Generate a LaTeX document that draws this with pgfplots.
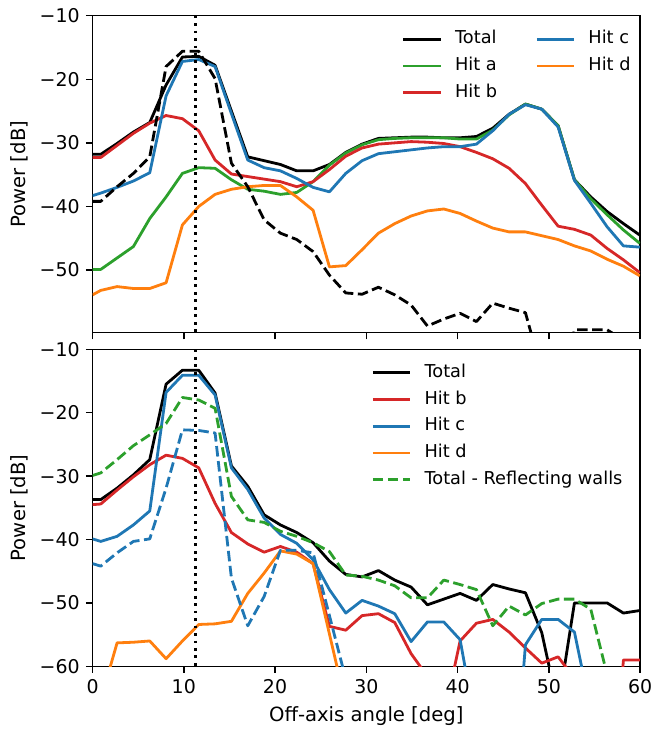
\documentclass[border=0pt]{standalone}
\usepackage{fontspec}
\setmainfont{DejaVu Sans}
\usepackage{pgfplots}
\usepackage{pgfplotstable}
\pgfplotsset{compat=1.18}

\definecolor{tblue}{HTML}{1F77B4}
\definecolor{torange}{HTML}{FF7F0E}
\definecolor{tgreen}{HTML}{2CA02C}
\definecolor{tred}{HTML}{D62728}

% upper panel: direct field
\pgfplotstableread{
x      tot    a      b      c      d      dash
0.00  -31.8  -49.9  -32.3  -38.3  -53.9  -39.2
0.90  -31.8  -49.9  -32.3  -37.9  -53.2  -39.2
2.69  -30.1  -48.1  -30.4  -37.0  -52.6  -36.9
4.48  -28.3  -46.3  -28.5  -36.0  -52.9  -34.8
6.27  -26.8  -41.9  -26.9  -34.7  -52.9  -32.2
8.06  -20.9  -38.5  -25.7  -22.6  -52.0  -18.0
9.85  -16.5  -34.8  -26.2  -17.2  -42.9  -15.6
11.64 -16.4  -33.9  -28.1  -16.9  -40.0  -15.6
13.43 -17.8  -34.0  -32.7  -18.0  -38.1  -19.9
15.22 -25.0  -35.8  -34.9  -25.4  -37.3  -33.2
17.01 -32.2  -37.3  -35.3  -32.7  -36.9  -36.9
18.80 -32.8  -37.6  -35.7  -33.9  -36.7  -42.1
20.59 -33.4  -38.1  -36.1  -34.4  -36.7  -44.2
22.38 -34.4  -37.8  -36.9  -35.6  -38.5  -45.2
24.17 -34.4  -36.1  -36.1  -37.0  -40.6  -47.1
25.96 -33.4  -33.5  -34.2  -37.7  -49.5  -50.8
27.75 -31.5  -31.6  -32.1  -34.8  -49.3  -53.6
29.54 -30.2  -30.3  -30.8  -32.8  -46.8  -53.8
31.33 -29.3  -29.5  -30.2  -31.7  -44.2  -52.7
33.12 -29.2  -29.3  -30.0  -31.4  -42.7  -53.9
34.91 -29.1  -29.2  -29.8  -31.1  -41.5  -55.5
36.70 -29.1  -29.2  -29.9  -30.8  -40.7  -58.8
38.49 -29.2  -29.2  -30.1  -30.6  -40.4  -57.7
40.28 -29.2  -29.4  -30.6  -30.6  -41.1  -56.8
42.07 -29.0  -29.4  -31.5  -30.2  -42.3  -58.1
43.86 -27.7  -28.0  -32.5  -28.1  -43.4  -55.2
45.65 -25.5  -25.6  -34.0  -25.5  -44.0  -56.0
47.44 -23.9  -23.9  -36.4  -24.0  -44.0  -56.7
49.23 -24.7  -24.7  -39.8  -24.7  -44.6  -66.0
51.02 -27.3  -27.3  -43.1  -27.5  -45.2  -70.0
52.81 -35.8  -35.8  -43.6  -35.9  -46.2  -59.4
54.60 -38.5  -38.8  -44.5  -39.5  -47.0  -59.4
56.39 -40.8  -41.3  -46.6  -43.2  -48.3  -59.4
58.18 -42.7  -43.7  -48.4  -46.2  -49.4  -61.0
59.97 -44.5  -45.8  -50.4  -46.4  -50.9  -62.0
}\toppanel

% lower panel
\pgfplotstableread{
x      tot    b      c      cd     d      gd
0.00  -33.7  -34.5  -39.9  -43.8  -70.0  -29.9
0.90  -33.7  -34.4  -40.3  -44.2  -65.3  -29.5
2.69  -31.9  -32.2  -39.5  -42.1  -56.3  -27.4
4.48  -29.8  -30.1  -37.7  -40.3  -56.2  -25.2
6.27  -27.4  -28.2  -35.5  -39.9  -56.0  -23.5
8.06  -15.5  -26.7  -16.8  -31.9  -58.8  -21.7
9.85  -13.3  -27.2  -14.1  -22.7  -56.0  -17.6
11.64 -13.3  -28.7  -14.1  -22.8  -53.4  -18.0
13.43 -16.9  -34.3  -17.2  -23.2  -53.3  -19.3
15.22 -28.4  -38.9  -28.7  -46.1  -52.9  -33.2
17.01 -31.6  -40.7  -32.1  -53.6  -48.5  -36.9
18.80 -36.1  -42.0  -36.6  -49.0  -45.3  -37.3
20.59 -37.7  -41.1  -39.2  -41.7  -41.8  -38.7
22.38 -38.9  -42.0  -40.6  -41.7  -42.3  -39.5
24.17 -40.5  -43.8  -43.2  -42.1  -43.8  -40.5
25.96 -43.4  -53.7  -47.9  -52.0  -54.9  -41.9
27.75 -45.5  -54.3  -51.6  -62.0  -66.0  -45.6
29.54 -45.9  -52.0  -49.6  -70.0  -70.0  -45.8
31.33 -44.9  -51.7  -50.5  -70.0  -70.0  -46.4
33.12 -46.4  -53.1  -51.7  -70.0  -70.0  -47.3
34.91 -47.5  -58.0  -56.1  -70.0  -70.0  -49.2
36.70 -50.3  -61.6  -53.0  -70.0  -70.0  -49.2
38.49 -49.4  -68.0  -53.0  -70.0  -70.0  -46.4
40.28 -48.5  -56.0  -55.8  -70.0  -70.0  -47.1
42.07 -49.6  -53.2  -70.0  -70.0  -70.0  -47.9
43.86 -47.1  -52.6  -90.0  -70.0  -70.0  -53.6
45.65 -47.8  -54.6  -90.0  -70.0  -70.0  -50.5
47.44 -48.4  -57.1  -56.6  -70.0  -70.0  -51.9
49.23 -54.7  -59.5  -52.6  -70.0  -70.0  -50.1
51.02 -66.5  -58.5  -52.6  -70.0  -70.0  -49.4
52.81 -50.0  -61.9  -54.6  -70.0  -70.0  -49.4
54.60 -50.0  -70.0  -67.0  -70.0  -70.0  -51.0
56.39 -50.0  -90.0  -70.0  -70.0  -70.0  -61.3
58.18 -51.6  -59.0  -70.0  -70.0  -70.0  -70.0
59.97 -51.2  -59.0  -70.0  -70.0  -70.0  -70.0
}\botpanel

\pgfplotsset{
  panel/.style={
    scale only axis, width=410.6pt, height=237.75pt,
    xmin=0, xmax=60,
    axis line style={line width=1.1pt},
    tick align=outside, xtick pos=left, ytick pos=left,
    major tick length=5pt,
    every tick/.style={black, line width=1.1pt},
    xtick={0,10,20,30,40,50,60},
    yticklabel style={inner sep=0pt, xshift=-4.5pt},
    xticklabel style={inner sep=0pt, yshift=-5pt},
    label style={font=\fontsize{14.7}{17}\selectfont},
    ylabel={Power [dB]},
    ylabel style={at={(axis description cs:-0.1333,0.5)}, anchor=center},
    legend cell align=left,
    legend image code/.code={\draw[##1] (0pt,0pt) -- (28.2pt,0pt);},
    legend style={draw=none, fill=none, inner sep=0pt, row sep=6pt,
      font=\fontsize{13.3}{16}\selectfont,
      nodes={inner sep=0pt, text height=10.5pt, text depth=3.6pt},
      /tikz/every odd column/.append style={column sep=9.5pt},
      /tikz/every even column/.append style={column sep=28.6pt}},
  },
  ln/.style={line width=2.1pt, line join=round},
  dsh/.style={line width=2.1pt, line join=round, dash pattern=on 7.9pt off 3.4pt},
  dot/.style={line width=2.1pt, dash pattern=on 2.1pt off 3.5pt},
}

\begin{document}
\fontsize{14.2}{17}\selectfont
\begin{tikzpicture}
\useasboundingbox (-69.4pt,-297.2pt) rectangle (419.6pt,249.5pt);

\begin{axis}[panel, ymin=-59.85, ymax=-10,
  ytick={-50,-40,-30,-20,-10}, yticklabels={−50,−40,−30,−20,−10},
  xticklabels={},
  legend columns=2,
  legend style={at={(axis description cs:0.5648,0.956)}, anchor=north west}]
\addlegendimage{ln, black}\addlegendentry{Total}
\addlegendimage{ln, tblue}\addlegendentry{Hit c}
\addlegendimage{ln, tgreen}\addlegendentry{Hit a}
\addlegendimage{ln, torange}\addlegendentry{Hit d}
\addlegendimage{ln, tred}\addlegendentry{Hit b}
\addplot[ln, black, forget plot] table[x=x, y=tot] {\toppanel};
\addplot[ln, tgreen, forget plot] table[x=x, y=a] {\toppanel};
\addplot[ln, tred, forget plot] table[x=x, y=b] {\toppanel};
\addplot[ln, tblue, forget plot] table[x=x, y=c] {\toppanel};
\addplot[ln, torange, forget plot] table[x=x, y=d] {\toppanel};
\addplot[dsh, black, forget plot] table[x=x, y=dash] {\toppanel};
\addplot[dot, black, forget plot] coordinates {(11.3,-10) (11.3,-60)};
\end{axis}

\begin{axis}[panel, at={(0,-12.45pt)}, anchor=north west,
  ymin=-60, ymax=-10,
  ytick={-60,-50,-40,-30,-20,-10}, yticklabels={−60,−50,−40,−30,−20,−10},
  xticklabels={0,10,20,30,40,50,60},
  xlabel={Off-axis angle [deg]},
  xlabel style={at={(axis description cs:0.5,-0.1556)}, anchor=center},
  legend style={at={(axis description cs:0.509,0.957)}, anchor=north west}]
\addplot[ln, black] table[x=x, y=tot] {\botpanel};
\addlegendentry{Total}
\addplot[ln, tred] table[x=x, y=b] {\botpanel};
\addlegendentry{Hit b}
\addplot[ln, tblue] table[x=x, y=c] {\botpanel};
\addlegendentry{Hit c}
\addplot[ln, torange] table[x=x, y=d] {\botpanel};
\addlegendentry{Hit d}
\addplot[dsh, tblue, forget plot] table[x=x, y=cd] {\botpanel};
\addplot[dsh, tgreen] table[x=x, y=gd] {\botpanel};
\addlegendentry{Total - Reflecting walls}
\addplot[dot, black, forget plot] coordinates {(11.3,-10) (11.3,-60)};
\end{axis}
\end{tikzpicture}
\end{document}
